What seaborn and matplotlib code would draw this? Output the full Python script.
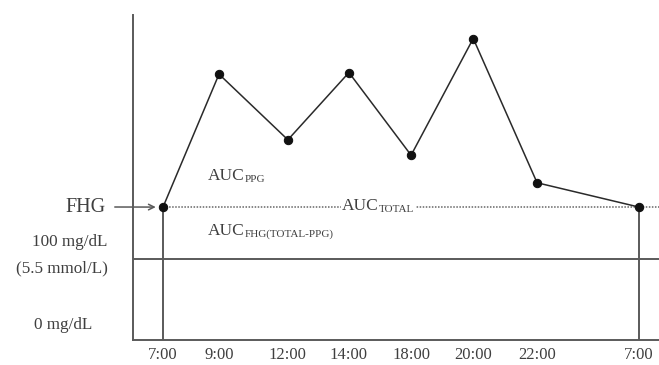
import matplotlib
matplotlib.use("Agg")
import matplotlib.pyplot as plt
import seaborn as sns
import pandas as pd

# ==========================
# DATA
# ==========================
times = ["7:00", "9:00", "12:00", "14:00", "18:00", "20:00", "22:00", "7:00"]
x_pos = [0, 1, 2.23, 3.32, 4.43, 5.54, 6.68, 8.5]
glucose = [164, 328, 247, 330, 228, 372, 194, 164]
fhg = 164
baseline = 100

df = pd.DataFrame({"x": x_pos, "glucose": glucose})

# ==========================
# STYLE
# ==========================
sns.set_style("white")
plt.rcParams["font.family"] = ["Liberation Serif", "DejaVu Serif"]

spine_col = "#5a5a5a"
text_col = "#3f3f3f"

fig = plt.figure(figsize=(6.59, 3.65), dpi=100)
ax = fig.add_axes([133 / 659, 25 / 365, 526 / 659, 325 / 365])

# reference lines
ax.axhline(baseline, color=spine_col, lw=1.4, zorder=1)
ax.plot([x_pos[0], x_pos[-1] + 5], [fhg, fhg], color="#666666", lw=1.1,
        ls=(0, (1.0, 1.0)), zorder=1)
ax.vlines([x_pos[0], x_pos[-1]], 0, fhg, color=spine_col, lw=1.4, zorder=1)

# glucose curve
sns.lineplot(data=df, x="x", y="glucose", sort=False, color="#2a2a2a", lw=1.1,
             marker="o", markersize=6, markeredgecolor="#111111",
             markerfacecolor="#111111", ax=ax, zorder=3)

ax.set_xlim(-0.536, 8.857)
ax.set_ylim(0, 401)
ax.set_xticks(x_pos)
ax.set_xticklabels(times, fontsize=12, color=text_col)
ax.set_yticks([])
ax.set_xlabel("")
ax.set_ylabel("")
ax.tick_params(axis="x", length=0, pad=5)

for s in ["top", "right"]:
    ax.spines[s].set_visible(False)
for s in ["left", "bottom"]:
    ax.spines[s].set_color(spine_col)
    ax.spines[s].set_linewidth(1.4)

# left labels
fig.text(85 / 659, 1 - 207 / 365, "FHG", fontsize=14.5, color=text_col,
         ha="center", va="center")
ax.annotate("", xy=(x_pos[0] - 0.08, fhg), xytext=(112 / 659, 1 - 207 / 365),
            textcoords="figure fraction",
            arrowprops=dict(arrowstyle="->", color=spine_col, lw=1.1))
fig.text(70 / 659, 1 - 242 / 365, "100 mg/dL", fontsize=12.3, color=text_col,
         ha="center", va="center")
fig.text(62 / 659, 1 - 268 / 365, "(5.5 mmol/L)", fontsize=12.3, color=text_col,
         ha="center", va="center")
fig.text(63 / 659, 1 - 325 / 365, "0 mg/dL", fontsize=12.3, color=text_col,
         ha="center", va="center")


def auc_label(x, y, sub, ha="left", bg=False):
    kw = dict(fontsize=12.5, color=text_col, ha=ha, va="baseline")
    if bg:
        kw["bbox"] = dict(facecolor="white", edgecolor="none", pad=1)
    t = ax.text(x, y, "AUC", **kw)
    ax.annotate(sub, xy=(1, 0), xycoords=t, fontsize=8, color=text_col,
                ha="left", va="bottom",
                bbox=dict(facecolor="white", edgecolor="none", pad=1) if bg else None)
    return t


auc_label(0.8, 197, "PPG")
auc_label(3.2, 160, "TOTAL", bg=True)
auc_label(0.8, 130, "FHG(TOTAL-PPG)")

fig.savefig("out.png", dpi=100)
